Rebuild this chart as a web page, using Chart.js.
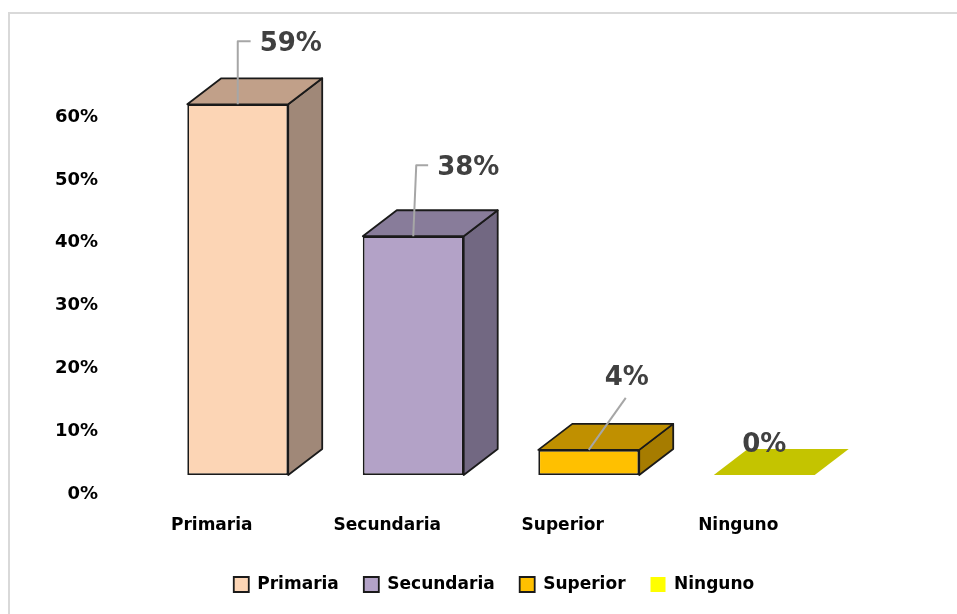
<!DOCTYPE html>
<html>
<head>
<meta charset="utf-8">
<script src="https://cdn.jsdelivr.net/npm/chart.js@4.4.1/dist/chart.umd.min.js"></script>
<style>
  html, body { margin: 0; padding: 0; background: #fff; }
  canvas { display: block; }
</style>
</head>
<body>
<canvas id="nivel-chart" width="957" height="614"></canvas>
<script>
// Nivel educativo: column chart drawn with a 3D look. Chart.js draws the
// front face of every column; the plugin below adds the top and side faces
// and the callout value labels.

const categories = ['Primaria', 'Secundaria', 'Superior', 'Ninguno'];
const shares = [0.59, 0.38, 0.04, 0];
const yTicks = [0, 0.1, 0.2, 0.3, 0.4, 0.5, 0.6];

const frontColors = ['#FCD5B5', '#B3A2C7', '#FFC000', '#FFFF00'];
const topColors = ['#C1A089', '#887C9A', '#C09000', '#C4C400'];
const sideColors = ['#A08878', '#726882', '#A67C00', '#A6A600'];

const EDGE = '#1a1a1a';
const DEPTH_X = 34;
const DEPTH_Y = -26;

// where each value label sits, relative to the centre of the column's front-top edge
const calloutSpots = [
  { dx: 53, dy: -63, leader: 'elbow' },
  { dx: 55, dy: -71, leader: 'elbow' },
  { dx: 38, dy: -75, leader: 'straight' },
  { dx: 0, dy: -33, leader: null }
];

const pct = (v) => Math.round(v * 100) + '%';

Chart.defaults.font.family = "'DejaVu Sans', sans-serif";

function poly(ctx, pts, fill, stroke) {
  ctx.beginPath();
  ctx.moveTo(pts[0][0], pts[0][1]);
  for (let i = 1; i < pts.length; i++) ctx.lineTo(pts[i][0], pts[i][1]);
  ctx.closePath();
  ctx.fillStyle = fill;
  ctx.fill();
  if (stroke) {
    ctx.strokeStyle = EDGE;
    ctx.lineWidth = 1.8;
    ctx.stroke();
  }
}

const framePlugin = {
  id: 'frame',
  beforeDraw(chart) {
    const { ctx, width, height } = chart;
    ctx.save();
    ctx.fillStyle = '#fff';
    ctx.fillRect(0, 0, width, height);
    ctx.strokeStyle = '#d9d9d9';
    ctx.lineWidth = 2;
    ctx.beginPath();
    ctx.moveTo(9, height);
    ctx.lineTo(9, 13);
    ctx.lineTo(width, 13);
    ctx.stroke();
    ctx.restore();
  }
};

const depthPlugin = {
  id: 'depth',
  afterDatasetsDraw(chart) {
    const ctx = chart.ctx;
    const meta = chart.getDatasetMeta(0);
    ctx.save();
    ctx.lineJoin = 'round';
    meta.data.forEach((el, i) => {
      const { x, y, base, width } = el.getProps(['x', 'y', 'base', 'width'], true);
      const l = x - width / 2;
      const r = x + width / 2;
      const t = Math.min(y, base);
      const b = base;
      const outlined = shares[i] > 0;
      if (b - t > 0.5) {
        poly(ctx, [[r, t], [r + DEPTH_X, t + DEPTH_Y], [r + DEPTH_X, b + DEPTH_Y], [r, b]], sideColors[i], true);
      }
      poly(ctx, [[l, t], [r, t], [r + DEPTH_X, t + DEPTH_Y], [l + DEPTH_X, t + DEPTH_Y]], topColors[i], outlined);
    });

    // value callouts
    ctx.font = "bold 26px 'DejaVu Sans', sans-serif";
    ctx.textAlign = 'center';
    ctx.textBaseline = 'alphabetic';
    meta.data.forEach((el, i) => {
      const { x, y } = el.getProps(['x', 'y'], true);
      const spot = calloutSpots[i];
      const text = pct(shares[i]);
      const tx = x + spot.dx;
      const ty = y + spot.dy;
      const m = ctx.measureText(text);
      const half = m.width / 2;
      ctx.strokeStyle = '#a6a6a6';
      ctx.lineWidth = 2;
      if (spot.leader === 'elbow') {
        ctx.beginPath();
        ctx.moveTo(x, y);
        ctx.lineTo(x + (i === 1 ? 3 : 0), ty);
        ctx.lineTo(tx - half - 9, ty);
        ctx.stroke();
      } else if (spot.leader === 'straight') {
        ctx.beginPath();
        ctx.moveTo(x, y);
        ctx.lineTo(tx - 1, ty + 23);
        ctx.stroke();
      }
      ctx.fillStyle = '#404040';
      ctx.fillText(text, tx, ty + m.actualBoundingBoxAscent / 2);
    });
    ctx.restore();
  }
};

new Chart(document.getElementById('nivel-chart'), {
  type: 'bar',
  data: {
    labels: categories,
    datasets: [{
      data: shares,
      backgroundColor: frontColors,
      borderColor: EDGE,
      borderWidth: [1.8, 1.8, 1.8, 0],
      borderSkipped: false,
      barPercentage: 0.575,
      categoryPercentage: 1
    }]
  },
  options: {
    responsive: false,
    devicePixelRatio: 1,
    animation: false,
    layout: { padding: { top: 98, left: 40, right: 9, bottom: 11 } },
    plugins: {
      tooltip: { enabled: false },
      legend: {
        position: 'bottom',
        labels: {
          boxWidth: 15,
          boxHeight: 15,
          padding: 25,
          color: '#000',
          font: { size: 17, weight: 'bold' },
          generateLabels: () => categories.map((c, i) => ({
            text: c,
            fillStyle: frontColors[i],
            strokeStyle: EDGE,
            lineWidth: shares[i] > 0 ? 1.8 : 0,
            fontColor: '#000',
            hidden: false,
            index: i
          }))
        }
      }
    },
    scales: {
      x: {
        afterFit: (s) => { s.height = 76; },
        grid: { display: false, drawTicks: false },
        border: { display: false },
        ticks: {
          padding: 40,
          labelOffset: -26,
          color: '#000',
          maxRotation: 0,
          autoSkip: false,
          font: { size: 17, weight: 'bold' }
        }
      },
      y: {
        min: 0,
        max: 0.6,
        afterBuildTicks: (s) => { s.ticks = yTicks.map((v) => ({ value: v })); },
        afterFit: (s) => { s.width = 110; },
        grid: { display: false, drawTicks: false },
        border: { display: false },
        ticks: {
          padding: 52,
          labelOffset: 19,
          color: '#000',
          font: { size: 18, weight: 'bold' },
          callback: (v) => pct(v)
        }
      },
      // empty spacer on the right so the plot keeps its right margin
      // while the legend stays centred under the whole frame
      spacer: {
        type: 'linear',
        position: 'right',
        afterFit: (s) => { s.width = 96; },
        grid: { display: false, drawTicks: false },
        border: { display: false },
        ticks: { display: false }
      }
    }
  },
  plugins: [framePlugin, depthPlugin]
});
</script>
</body>
</html>
